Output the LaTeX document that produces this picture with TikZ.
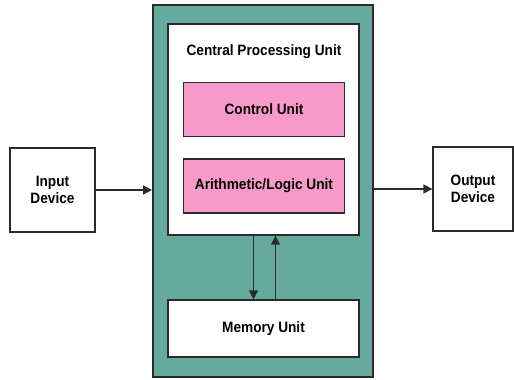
\documentclass[tikz,border=0pt]{standalone}
\usepackage{fontspec}
\setmainfont{Liberation Sans}[FakeStretch=0.91]
\usepackage{xcolor}
\usepackage{tikz}
\usetikzlibrary{
  arrows.meta,
  positioning
}
\definecolor{cputeal}{HTML}{66A99F}
\definecolor{unitpink}{HTML}{F79AC9}
\definecolor{edgegray}{HTML}{2B2B2B}

\begin{document}
\begin{tikzpicture}[x=1pt, y=-1pt,
  box/.style={draw=edgegray, line width=1.3pt, rectangle, align=center,
              font=\fontsize{15}{17}\selectfont\bfseries},
  devbox/.style={box, fill=white, minimum width=85pt, minimum height=84pt},
  unitbox/.style={box, fill=unitpink, minimum width=161pt, minimum height=54pt},
  arrow/.style={-{Triangle[length=9pt, width=9pt]}, line width=1.4pt, edgegray},
]
  \useasboundingbox (0,0) rectangle (514,380);

  % CPU frame
  \node[box, fill=cputeal, line width=2pt, minimum width=220pt, minimum height=372pt]
    (outer) at (263, 191) {};
  \node[box, fill=white, minimum width=191pt, minimum height=211pt]
    (cpu) at (263.5, 129.5) {};
  \node[box, draw=none, fill=none] (cpulbl) at (264, 52) {Central Processing Unit};
  \node[unitbox] (ctrl) at (264, 109.5) {Control Unit};
  \node[unitbox] (alu)  at (264, 186) {Arithmetic/Logic Unit};
  \node[box, fill=white, minimum width=191pt, minimum height=57pt]
    (mem) at (263.5, 328.5) {Memory Unit};

  % Devices
  \node[devbox] (input)  at (52.5, 190) {Input\\Device};
  \node[devbox, minimum width=80pt] (output) at (473, 189) {Output\\Device};

  \draw[arrow] (input.east) -- (input.east -| outer.west);
  \draw[arrow] (output.west -| outer.east) -- (output.west);
  \draw[arrow] ([xshift=-10pt]cpu.south) -- ([xshift=-10pt]mem.north);
  \draw[arrow] ([xshift=12pt]mem.north) -- ([xshift=12pt]cpu.south);
\end{tikzpicture}
\end{document}
